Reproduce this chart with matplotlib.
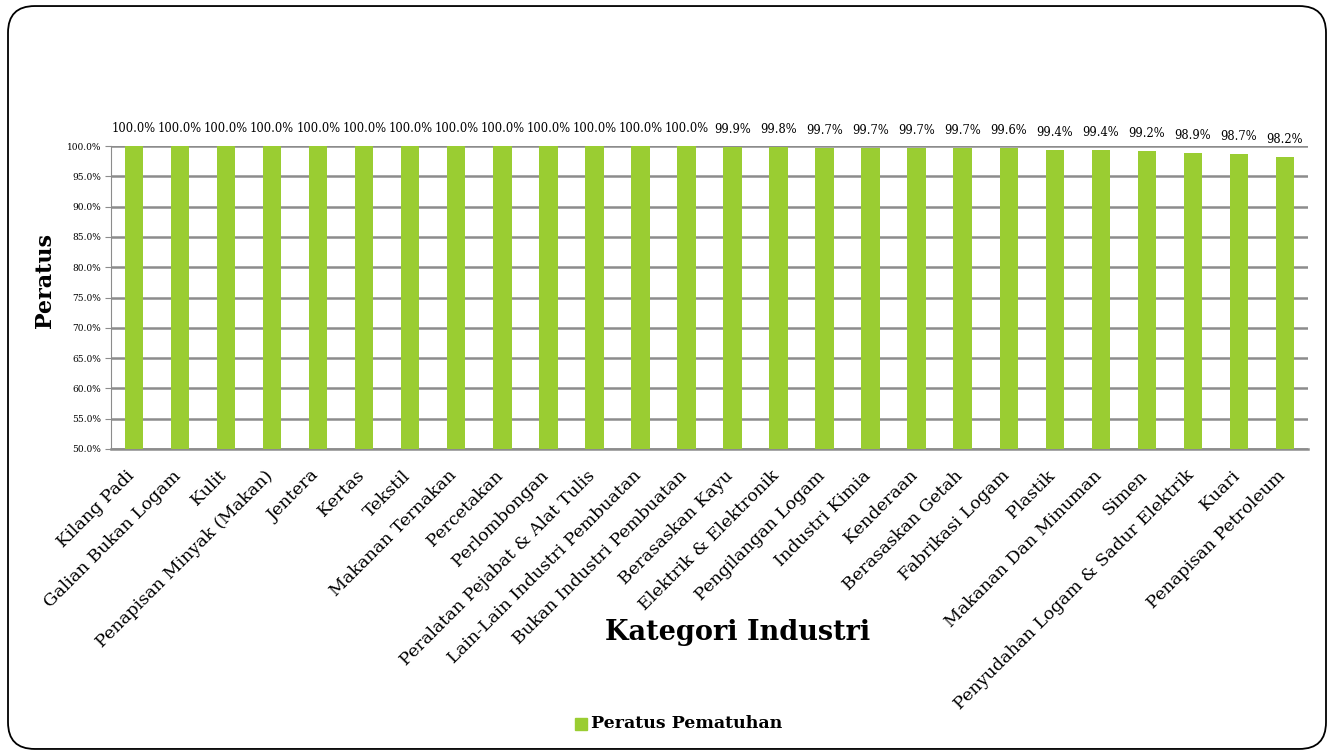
import matplotlib
matplotlib.use("Agg")
import matplotlib.pyplot as plt
from matplotlib.patches import FancyBboxPatch, Rectangle
from matplotlib.ticker import FuncFormatter, MultipleLocator
from matplotlib.transforms import ScaledTranslation

categories = ["Kilang Padi", "Galian Bukan Logam", "Kulit", "Penapisan Minyak (Makan)",
              "Jentera", "Kertas", "Tekstil", "Makanan Ternakan", "Percetakan",
              "Perlombongan", "Peralatan Pejabat & Alat Tulis",
              "Lain-Lain Industri Pembuatan", "Bukan Industri Pembuatan",
              "Berasaskan Kayu", "Elektrik & Elektronik", "Pengilangan Logam",
              "Industri Kimia", "Kenderaan", "Berasaskan Getah", "Fabrikasi Logam",
              "Plastik", "Makanan Dan Minuman", "Simen",
              "Penyudahan Logam & Sadur Elektrik", "Kuari", "Penapisan Petroleum"]
values = [100.0, 100.0, 100.0, 100.0, 100.0, 100.0, 100.0, 100.0, 100.0, 100.0,
          100.0, 100.0, 100.0, 99.9, 99.8, 99.7, 99.7, 99.7, 99.7, 99.6,
          99.4, 99.4, 99.2, 98.9, 98.7, 98.2]
series_name = "Peratus Pematuhan"
bar_color = "#9ACD32"

plt.rcParams['font.family'] = ["DejaVu Serif"]

fig = plt.figure(figsize=(13.34, 7.55), dpi=100)
fig.patches.append(FancyBboxPatch((0.006, 0.008), 0.988, 0.984,
                                  boxstyle="round,pad=0,rounding_size=0.02",
                                  transform=fig.transFigure, fill=False,
                                  edgecolor="black", linewidth=1.3,
                                  mutation_aspect=1334/755))

n = len(categories)
ax = fig.add_axes([0.0832, 0.4053, 0.8973, 0.4013])
x = list(range(n))
ax.bar(x, values, width=0.4, color=bar_color, zorder=3)
ax.set_xlim(-0.5, n - 0.5)
ax.set_ylim(50, 100)
ax.yaxis.set_major_locator(MultipleLocator(5))
ax.yaxis.set_major_formatter(FuncFormatter(lambda v, p: f"{v:.1f}%"))
ax.grid(axis="y", color="#8c8c8c", linewidth=1.8, zorder=0)
for s in ["top", "right"]:
    ax.spines[s].set_visible(False)
ax.spines["left"].set_color("#8c8c8c")
ax.spines["bottom"].set_color("#8c8c8c")
ax.spines["bottom"].set_linewidth(1.8)
ax.tick_params(axis="y", labelsize=6.5, length=4, color="#8c8c8c", pad=3)
ax.tick_params(axis="x", length=0, pad=13)
ax.set_xticks(x)
ax.set_xticklabels(categories, rotation=45, ha="right", va="top",
                   rotation_mode="anchor", fontsize=12.6)
shift = ScaledTranslation(-0.08, 0, fig.dpi_scale_trans)
for lab in ax.get_xticklabels():
    lab.set_transform(lab.get_transform() + shift)
for xi, v in zip(x, values):
    ax.annotate(f"{v:.1f}%", (xi, v), xytext=(0, 8), textcoords="offset points",
                ha="center", va="bottom", fontsize=8.3, clip_on=False)

fig.text(45 / 1334, 1 - 280 / 755, "Peratus", rotation=90, ha="center", va="center",
         fontsize=16, fontweight="bold")
fig.text(0.553, 1 - 632 / 755, "Kategori Industri", ha="center", va="center",
         fontsize=19.5, fontweight="bold")

fig.patches.append(Rectangle((575 / 1334, 1 - 730 / 755), 12 / 1334, 12 / 755,
                             transform=fig.transFigure, color=bar_color))
fig.text(591 / 1334, 1 - 724 / 755, series_name, ha="left", va="center",
         fontsize=12.5, fontweight="bold")

fig.savefig("out.png", dpi=100)
